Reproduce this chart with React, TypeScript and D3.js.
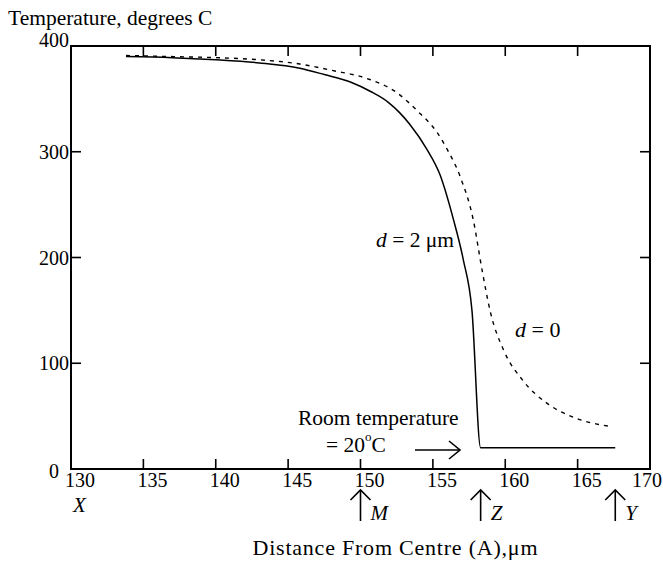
import React from "react";
import * as d3 from "d3";

const xTicks = [130, 135, 140, 145, 150, 155, 160, 165, 170];
const yTicks = [0, 100, 200, 300, 400];

// d = 2 µm (solid)
const solidX = [133.8, 137, 140, 143, 145.8, 147.5, 149.3, 150.7, 151.9, 152.7, 153.4, 154.6, 155.5, 156.4, 157.1, 157.7, 158.3, 167.6];
const solidT = [390, 389, 387, 384, 379, 373, 366, 357, 347, 337, 326, 302, 278, 237, 198, 150, 20, 20];

// d = 0 (dashed)
const dashX = [133.8, 137, 140, 143, 145.8, 148, 150.5, 152.5, 153.9, 155.3, 156.0, 156.9, 157.8, 158.4, 159.0, 159.9, 161.2, 162.9, 164.7, 167.4];
const dashT = [391, 390, 389, 387, 383, 377, 369, 356, 339, 318, 302, 276, 235, 188, 147, 112, 84, 62, 49, 40];

const pointMarks = ["M", "Z", "Y"];
const pointPos = [150, 158.3, 167.6];

const FONT = "'Liberation Serif', 'Times New Roman', serif";

export default function App() {
  const x = d3.scaleLinear().domain([130, 170]).range([71, 650]);
  const y = d3.scaleLinear().domain([0, 400]).range([469, 46]);
  const line = d3.line<[number, number]>().x(d => x(d[0])).y(d => y(d[1])).curve(d3.curveMonotoneX);
  const dashLine = d3.line<[number, number]>().x(d => x(d[0])).y(d => y(d[1])).curve(d3.curveMonotoneX);
  const solidPts = solidX.map((v, i) => [v, solidT[i]] as [number, number]);
  const dashPts = dashX.map((v, i) => [v, dashT[i]] as [number, number]);
  const L = x(130), R = x(170), T = y(400), B = y(0);
  const tl = 10;

  return (
    <svg width={663} height={564} style={{ position: "absolute", left: 0, top: 0, background: "#fff" }} fontFamily={FONT}>
      <text x={8} y={25} fontSize={21.5}>Temperature, degrees C</text>
      {/* frame */}
      <rect x={L} y={T} width={R - L} height={B - T} fill="none" stroke="#000" strokeWidth={2} />
      {/* x ticks bottom & top */}
      {xTicks.slice(1, -1).map(t => (
        <g key={"xt" + t}>
          <line x1={x(t)} x2={x(t)} y1={B} y2={B - tl} stroke="#000" strokeWidth={1.6} />
          <line x1={x(t)} x2={x(t)} y1={T} y2={T + tl} stroke="#000" strokeWidth={1.6} />
        </g>
      ))}
      {xTicks.map((t, i) => (
        <text key={"xl" + t} x={i === xTicks.length - 1 ? x(t) - 3 : x(t) - 6} y={487}
          textAnchor={i === xTicks.length - 1 ? "middle" : "start"} fontSize={20}>{t}</text>
      ))}
      {/* y ticks left & right */}
      {yTicks.slice(1, -1).map(t => (
        <g key={"yt" + t}>
          <line x1={L} x2={L + tl} y1={y(t)} y2={y(t)} stroke="#000" strokeWidth={1.6} />
          <line x1={R} x2={R - tl} y1={y(t)} y2={y(t)} stroke="#000" strokeWidth={1.6} />
        </g>
      ))}
      {yTicks.map(t => (
        <text key={"yl" + t} x={t === 0 ? 59 : 69}
          y={t === 0 ? y(t) + 9 : t === 400 ? y(t) + 1 : y(t) + 7}
          textAnchor="end" fontSize={20}>{t}</text>
      ))}
      {/* curves */}
      <path d={dashLine(dashPts) || ""} fill="none" stroke="#000" strokeWidth={1.4} strokeDasharray="4 5" />
      <path d={line(solidPts) || ""} fill="none" stroke="#000" strokeWidth={1.5} />
      {/* annotations */}
      <text x={376} y={247} fontSize={21.5}><tspan fontStyle="italic">d</tspan> = 2 μm</text>
      <text x={515} y={337} fontSize={22}><tspan fontStyle="italic">d</tspan> = 0</text>
      <text x={298} y={425} fontSize={21.5}>Room temperature</text>
      <text x={326} y={452} fontSize={21.5}>= 20<tspan dy={-11} fontSize={13}>o</tspan><tspan dy={11}>C</tspan></text>
      <g stroke="#000" strokeWidth={1.6} fill="none">
        <line x1={415} x2={460} y1={450} y2={450} />
        <polyline points="449,441 460,450 449,459" />
      </g>
      {/* point markers */}
      <text x={73} y={512} fontSize={21} fontStyle="italic">X</text>
      {pointMarks.map((m, i) => {
        const px = x(pointPos[i]);
        return (
          <g key={m}>
            <g stroke="#000" strokeWidth={1.6} fill="none">
              <line x1={px} x2={px} y1={490} y2={521} />
              <polyline points={`${px - 10},500 ${px},490 ${px + 10},500`} />
            </g>
            <text x={px + 10} y={520} fontSize={21} fontStyle="italic">{m}</text>
          </g>
        );
      })}
      <text x={395} y={555} textAnchor="middle" fontSize={22} textLength={285} lengthAdjust="spacing">Distance From Centre (A),μm</text>
    </svg>
  );
}
